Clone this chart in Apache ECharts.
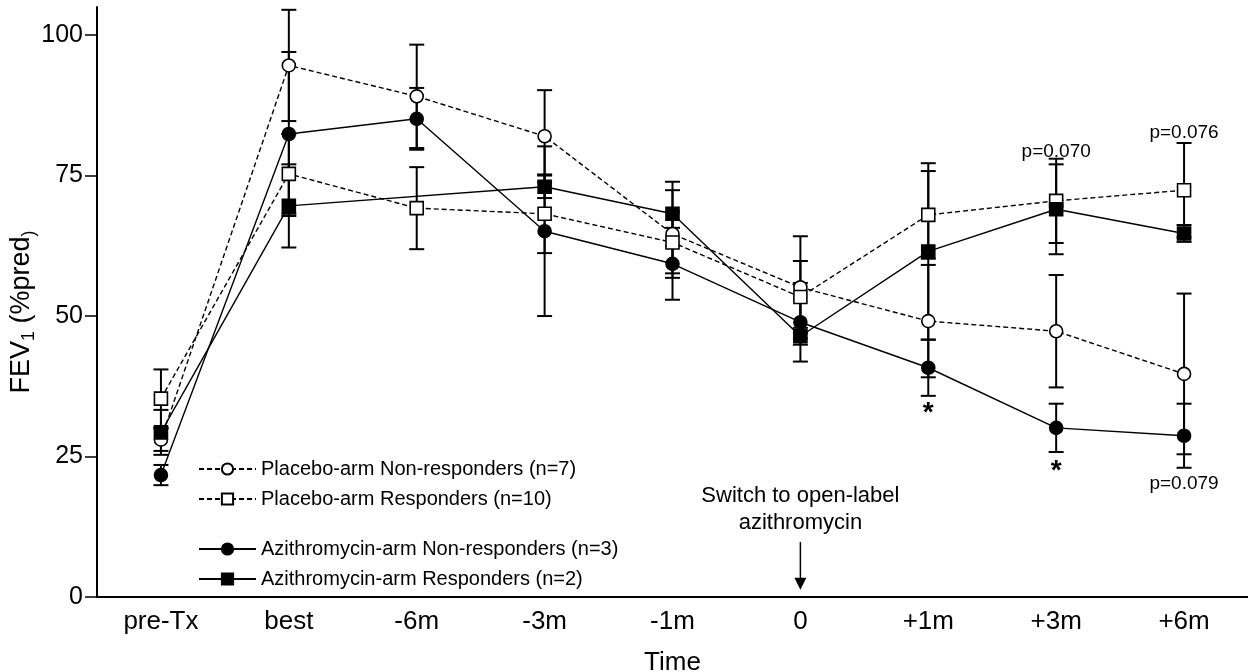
<!DOCTYPE html>
<html>
<head>
<meta charset="utf-8">
<script src="https://cdn.jsdelivr.net/npm/echarts@6/dist/echarts.min.js"></script>
<style>
html,body{margin:0;padding:0;background:#fff;}
#chart{width:1248px;height:672px;}
</style>
</head>
<body>
<div id="chart"></div>
<script>
// ---- data ----
const categories = ['pre-Tx', 'best', '-6m', '-3m', '-1m', '0', '+1m', '+3m', '+6m'];

const placeboNRMean = [28.0, 94.6, 89.1, 82.0, 64.6, 55.1, 49.1, 47.3, 39.7];
const placeboNRErr  = [2.0, 9.9, 9.2, 8.2, 7.8, 9.1, 10.0, 10.0, 14.3];

const placeboRMean  = [35.3, 75.3, 69.2, 68.2, 63.1, 53.4, 68.0, 70.5, 72.4];
const placeboRErr   = [5.2, 7.1, 7.3, 7.0, 5.5, 6.4, 7.8, 7.5, 8.4];

const azithroNRMean = [21.7, 82.4, 85.1, 65.1, 59.3, 48.9, 40.8, 30.1, 28.7];
const azithroNRErr  = [1.8, 14.6, 5.5, 15.1, 6.4, 7.0, 5.0, 4.3, 5.7];

const azithroRMean  = [29.3, 69.6, null, 73.0, 68.2, 46.4, 61.5, 69.0, 64.7];
const azithroRErr   = [4.0, 7.4, null, 2.0, 5.7, 1.5, 15.7, 8.0, 1.5];

const yTicks = [0, 25, 50, 75, 100];

const pLabelTexts = ['p=0.070', 'p=0.076', 'p=0.079'];
const pLabelCats  = ['+3m', '+6m', '+6m'];
const pLabelVals  = [79.2, 82.6, 20.2];

const starCats = ['+1m', '+3m'];
const starVals = [33.3, 22.9];

const switchText = 'Switch to open-label\nazithromycin';
const switchCat = '0';
const switchTextVal = 15.6;
const arrowFrom = 9.8;
const arrowTo = 1.3;

const seriesNames = [
  'Placebo-arm Non-responders (n=7)',
  'Placebo-arm Responders (n=10)',
  'Azithromycin-arm Non-responders (n=3)',
  'Azithromycin-arm Responders (n=2)'
];

// ---- helpers ----
const FONT = 'Liberation Sans, Arial, sans-serif';

function errData(mean, err) {
  const out = [];
  mean.forEach((m, i) => {
    if (m != null && err[i] != null) out.push([i, m - err[i], m + err[i]]);
  });
  return out;
}

function errRender(params, api) {
  const x = api.value(0);
  const lo = api.coord([x, api.value(1)]);
  const hi = api.coord([x, api.value(2)]);
  const w = 7.5;
  const st = { stroke: '#000', lineWidth: 2 };
  return {
    type: 'group',
    children: [
      { type: 'line', shape: { x1: hi[0], y1: hi[1], x2: lo[0], y2: lo[1] }, style: st },
      { type: 'line', shape: { x1: hi[0] - w, y1: hi[1], x2: hi[0] + w, y2: hi[1] }, style: st },
      { type: 'line', shape: { x1: lo[0] - w, y1: lo[1], x2: lo[0] + w, y2: lo[1] }, style: st }
    ]
  };
}

function errSeries(mean, err) {
  return {
    type: 'custom',
    renderItem: errRender,
    data: errData(mean, err),
    encode: { x: 0, y: [1, 2] },
    z: 1,
    silent: true,
    tooltip: { show: false }
  };
}

function lineSeries(name, data, symbol, filled, dashed) {
  return {
    name: name,
    type: 'line',
    data: data,
    symbol: symbol,
    symbolSize: 13,
    connectNulls: true,
    z: 3,
    lineStyle: { color: '#000', width: 1.4, type: dashed ? [5, 3] : 'solid' },
    itemStyle: { color: filled ? '#000' : '#fff', borderColor: '#000', borderWidth: 1.6 },
    emphasis: { disabled: true }
  };
}

const pLabelData = pLabelCats.map((c, i) => [categories.indexOf(c), pLabelVals[i]]);
const starData = starCats.map((c, i) => [categories.indexOf(c), starVals[i]]);

const chart = echarts.init(document.getElementById('chart'), null, { renderer: 'canvas' });

const legendText = { fontSize: 20, color: '#000', fontFamily: FONT };

const option = {
  backgroundColor: '#fff',
  animation: false,
  textStyle: { fontFamily: FONT, color: '#000' },
  grid: { left: 97, right: 0, top: 7, bottom: 75, containLabel: false, outerBoundsMode: 'none' },
  legend: [
    {
      data: [seriesNames[0], seriesNames[1]],
      orient: 'vertical',
      left: 193, top: 454,
      itemWidth: 57, itemHeight: 14, itemGap: 10,
      textStyle: legendText,
      selectedMode: false
    },
    {
      data: [seriesNames[2], seriesNames[3]],
      orient: 'vertical',
      left: 193, top: 534,
      itemWidth: 57, itemHeight: 14, itemGap: 10,
      textStyle: legendText,
      selectedMode: false
    }
  ],
  xAxis: {
    type: 'category',
    data: categories,
    boundaryGap: true,
    name: 'Time',
    nameLocation: 'middle',
    nameGap: 53,
    nameMoveOverlap: false,
    nameTextStyle: { fontSize: 26, color: '#000', fontFamily: FONT },
    axisLine: { lineStyle: { color: '#000', width: 2 } },
    axisTick: { alignWithLabel: true, length: 10, lineStyle: { color: '#000', width: 1.5 } },
    axisLabel: { fontSize: 26, color: '#000', margin: 12, fontFamily: FONT },
    splitLine: { show: false }
  },
  yAxis: {
    type: 'value',
    min: 0, max: 105, interval: 25,
    name: 'FEV{s|1} (%pred{s|)}',
    nameLocation: 'middle',
    nameGap: 59,
    nameRotate: 90,
    nameMoveOverlap: false,
    nameTextStyle: {
      fontSize: 27, color: '#000', fontFamily: FONT,
      padding: [0, 20, 0, 0],
      rich: { s: { fontSize: 18, padding: [14, 0, 0, 0], color: '#000', fontFamily: FONT } }
    },
    axisLine: { show: true, lineStyle: { color: '#000', width: 2 } },
    axisTick: { show: true, length: 12, customValues: yTicks, lineStyle: { color: '#000', width: 1.5 } },
    axisLabel: { fontSize: 25, color: '#000', margin: 14, customValues: yTicks, fontFamily: FONT },
    splitLine: { show: false }
  },
  series: [
    errSeries(placeboNRMean, placeboNRErr),
    errSeries(placeboRMean, placeboRErr),
    errSeries(azithroNRMean, azithroNRErr),
    errSeries(azithroRMean, azithroRErr),
    lineSeries(seriesNames[0], placeboNRMean, 'circle', false, true),
    lineSeries(seriesNames[1], placeboRMean, 'rect', false, true),
    lineSeries(seriesNames[2], azithroNRMean, 'circle', true, false),
    lineSeries(seriesNames[3], azithroRMean, 'rect', true, false),
    {
      type: 'custom',
      silent: true,
      z: 5,
      data: pLabelData,
      encode: { x: 0, y: 1 },
      renderItem: function (params, api) {
        const p = api.coord([api.value(0), api.value(1)]);
        return {
          type: 'text',
          style: {
            x: p[0], y: p[1], text: pLabelTexts[params.dataIndex],
            fill: '#000', font: '19px ' + FONT, align: 'center', verticalAlign: 'middle'
          }
        };
      }
    },
    {
      type: 'custom',
      silent: true,
      z: 5,
      data: starData,
      encode: { x: 0, y: 1 },
      renderItem: function (params, api) {
        const p = api.coord([api.value(0), api.value(1)]);
        return {
          type: 'text',
          style: {
            x: p[0], y: p[1] + 3, text: '*',
            fill: '#000', font: 'bold 28px ' + FONT, align: 'center', verticalAlign: 'middle'
          }
        };
      }
    },
    {
      type: 'custom',
      silent: true,
      z: 5,
      data: [[categories.indexOf(switchCat), switchTextVal, arrowFrom, arrowTo]],
      encode: { x: 0, y: [1, 2, 3] },
      renderItem: function (params, api) {
        const x = api.value(0);
        const t = api.coord([x, api.value(1)]);
        const a1 = api.coord([x, api.value(2)]);
        const a2 = api.coord([x, api.value(3)]);
        const hw = 6, hl = 12;
        return {
          type: 'group',
          children: [
            {
              type: 'text',
              style: {
                x: t[0], y: t[1], text: switchText,
                fill: '#000', font: '22px ' + FONT, align: 'center', verticalAlign: 'middle',
                lineHeight: 27
              }
            },
            {
              type: 'line',
              shape: { x1: a1[0], y1: a1[1], x2: a2[0], y2: a2[1] - hl + 1 },
              style: { stroke: '#000', lineWidth: 1.5 }
            },
            {
              type: 'polygon',
              shape: { points: [[a2[0] - hw, a2[1] - hl], [a2[0] + hw, a2[1] - hl], [a2[0], a2[1]]] },
              style: { fill: '#000' }
            }
          ]
        };
      }
    }
  ]
};

chart.setOption(option);
</script>
</body>
</html>
